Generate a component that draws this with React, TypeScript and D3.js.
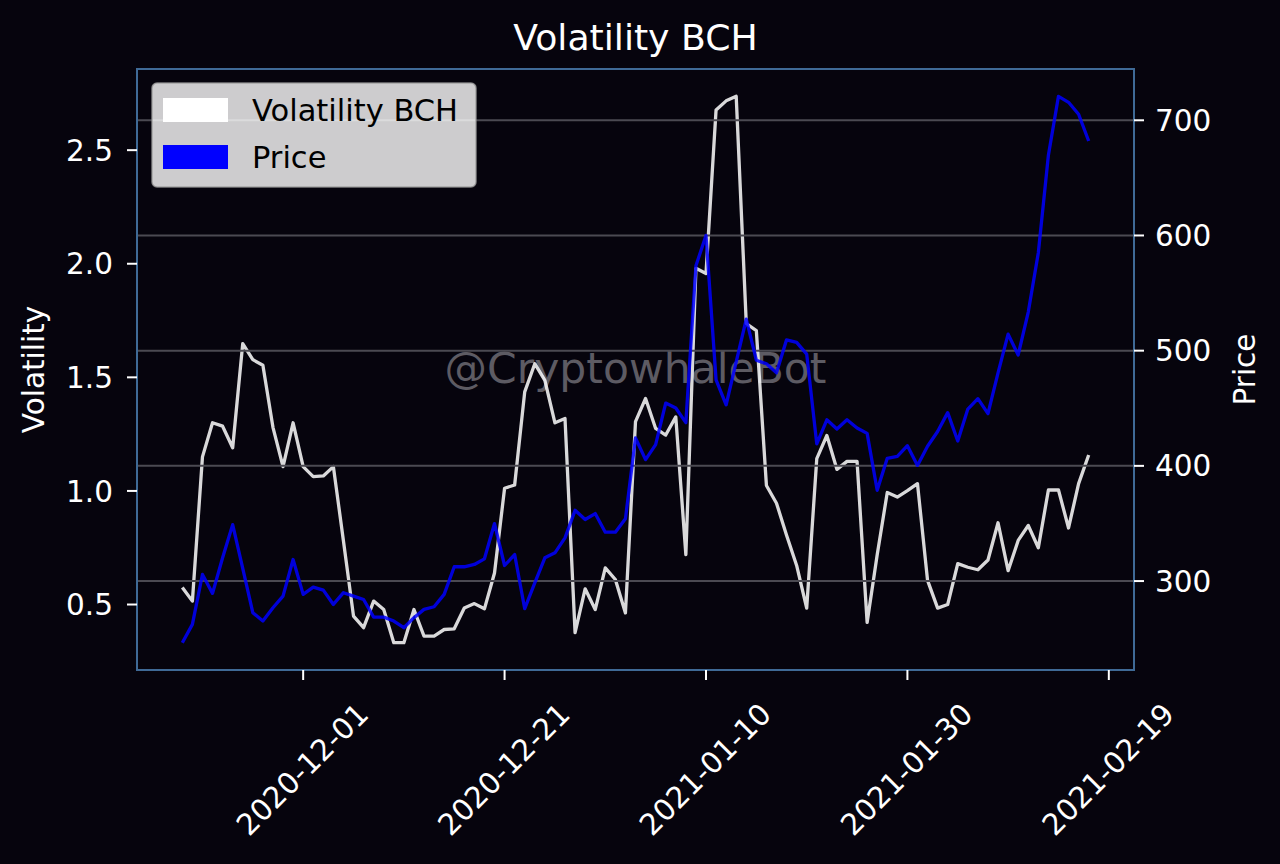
import { useEffect } from "react";
import * as d3 from "d3";

// Daily series, 2020-11-19 .. 2021-02-17
const START_DATE = "2020-11-19";
const END_DATE = "2021-02-17";

const VOLATILITY = [
  0.575, 0.515, 1.15, 1.3, 1.285, 1.19, 1.648, 1.578, 1.553, 1.28,
  1.107, 1.3, 1.107, 1.063, 1.066, 1.107, 0.78, 0.449, 0.398, 0.515,
  0.478, 0.332, 0.332, 0.478, 0.361, 0.361, 0.39, 0.393, 0.485, 0.504,
  0.481, 0.639, 1.012, 1.026, 1.436, 1.56, 1.487, 1.3, 1.319, 0.376,
  0.569, 0.478, 0.661, 0.61, 0.463, 1.305, 1.407, 1.275, 1.246, 1.326,
  0.72, 1.98, 1.957, 2.677, 2.717, 2.737, 1.737, 1.706, 1.024, 0.946,
  0.805, 0.672, 0.484, 1.142, 1.244, 1.095, 1.13, 1.13, 0.421, 0.719,
  0.993, 0.973, 1.001, 1.032, 0.606, 0.484, 0.5, 0.68, 0.664, 0.653,
  0.696, 0.86, 0.649, 0.782, 0.848, 0.75, 1.004, 1.004, 0.837, 1.032,
  1.158,
];

const PRICE = [
  246.5, 262.4, 305.7, 289.3, 320.2, 349, 311, 272.5, 265.3, 276.8,
  286.9, 318.7, 288.4, 294.7, 292.1, 279.7, 289.9, 286.9, 284, 268.7,
  268.7, 265.3, 259.5, 268.2, 275.4, 277.7, 288.4, 312.4, 312.4, 314.4,
  319.3, 349.9, 313.5, 323, 276, 298.5, 320.2, 324.5, 337.5, 361.4,
  353.4, 358.6, 342.4, 342.4, 354, 424.2, 405.4, 418.4, 454.5, 450.2,
  437.5, 573.7, 600, 474.7, 453, 490.3, 527.3, 491.7, 488.6, 480.8,
  509.4, 507.2, 497, 419.1, 440, 432, 440, 432.9, 428.2, 378.8,
  406.6, 408.2, 417.5, 400.4, 417, 429.8, 446.2, 421.6, 449.3, 458.3,
  445.3, 480.8, 514.3, 496.3, 533.5, 585, 669.7, 720.8, 715.6, 705.2,
  682,
];

const VOL_TICKS = [0.5, 1.0, 1.5, 2.0, 2.5];
const PRICE_TICKS = [300, 400, 500, 600, 700];
const DATE_TICKS = ["2020-12-01", "2020-12-21", "2021-01-10", "2021-01-30", "2021-02-19"];

const LEGEND = [
  { label: "Volatility BCH", color: "#ffffff" },
  { label: "Price", color: "#0000ff" },
];

const W = 1280;
const H = 864;
const BG = "#06040d";
const SPINE = "#3f6a96";
const FONT = "'DejaVu Sans', sans-serif";
const FS = 29.5;

// matplotlib-style 5% autoscale margin
function padded(lo: number, hi: number): [number, number] {
  const p = (hi - lo) * 0.05;
  return [lo - p, hi + p];
}

export default function App() {
  useEffect(() => {
    document.body.style.margin = "0";
    document.body.style.background = BG;
  }, []);

  const m = { left: 137, right: 1134, top: 69, bottom: 670 };

  const parse = d3.utcParse("%Y-%m-%d");
  const dates = d3.utcDay.range(parse(START_DATE)!, d3.utcDay.offset(parse(END_DATE)!, 1));
  const t0 = +dates[0];
  const t1 = +dates[dates.length - 1];
  const [xa, xb] = padded(t0, t1);

  const x = d3.scaleUtc().domain([new Date(xa), new Date(xb)]).range([m.left, m.right]);
  const yVol = d3
    .scaleLinear()
    .domain(padded(d3.min(VOLATILITY)!, d3.max(VOLATILITY)!))
    .range([m.bottom, m.top]);
  const yPrice = d3
    .scaleLinear()
    .domain(padded(d3.min(PRICE)!, d3.max(PRICE)!))
    .range([m.bottom, m.top]);

  const volLine = d3
    .line<number>()
    .x((_, i) => x(dates[i]))
    .y((d) => yVol(d));
  const priceLine = d3
    .line<number>()
    .x((_, i) => x(dates[i]))
    .y((d) => yPrice(d));

  const cx = (m.left + m.right) / 2;
  const cy = (m.top + m.bottom) / 2;

  return (
    <svg width={W} height={H} style={{ display: "block", background: BG }} fontFamily={FONT}>
      <rect x={0} y={0} width={W} height={H} fill={BG} />

      {/* watermark */}
      <text x={cx} y={383} textAnchor="middle" fontSize={42.5} fill="#5d5b63">
        @CryptowhaleBot
      </text>

      {/* volatility line (left axis) */}
      <path
        d={volLine(VOLATILITY)!}
        fill="none"
        stroke="#ffffff"
        strokeOpacity={0.85}
        strokeWidth={3.3}
        strokeLinejoin="round"
      />

      {/* grid from the twin (price) axis */}
      {PRICE_TICKS.map((t) => (
        <line
          key={`g${t}`}
          x1={m.left}
          x2={m.right}
          y1={yPrice(t)}
          y2={yPrice(t)}
          stroke="#4b4a52"
          strokeWidth={2}
        />
      ))}

      {/* price line (right axis) */}
      <path
        d={priceLine(PRICE)!}
        fill="none"
        stroke="#0000ff"
        strokeOpacity={0.85}
        strokeWidth={3.3}
        strokeLinejoin="round"
      />

      {/* spines */}
      <rect
        x={m.left}
        y={m.top}
        width={m.right - m.left}
        height={m.bottom - m.top}
        fill="none"
        stroke={SPINE}
        strokeWidth={2}
      />

      {/* left axis */}
      {VOL_TICKS.map((t) => (
        <g key={`v${t}`}>
          <line x1={m.left - 10} x2={m.left} y1={yVol(t)} y2={yVol(t)} stroke="#ffffff" strokeWidth={2} />
          <text x={m.left - 24} y={yVol(t)} dy="0.36em" textAnchor="end" fontSize={FS} fill="#ffffff">
            {d3.format(".1f")(t)}
          </text>
        </g>
      ))}

      {/* right axis */}
      {PRICE_TICKS.map((t) => (
        <g key={`p${t}`}>
          <line x1={m.right} x2={m.right + 10} y1={yPrice(t)} y2={yPrice(t)} stroke="#ffffff" strokeWidth={2} />
          <text x={m.right + 21} y={yPrice(t)} dy="0.36em" textAnchor="start" fontSize={FS} fill="#ffffff">
            {t}
          </text>
        </g>
      ))}

      {/* bottom axis */}
      {DATE_TICKS.map((d) => {
        const tx = x(parse(d)!);
        return (
          <g key={d}>
            <line x1={tx} x2={tx} y1={m.bottom} y2={m.bottom + 10} stroke="#ffffff" strokeWidth={2} />
            <text
              transform={`translate(${tx - 1},${769}) rotate(-45)`}
              textAnchor="middle"
              dy="0.36em"
              fontSize={FS}
              fill="#ffffff"
            >
              {d}
            </text>
          </g>
        );
      })}

      {/* axis labels and title */}
      <text transform={`translate(44,${cy}) rotate(-90)`} textAnchor="middle" fontSize={FS} fill="#ffffff">
        Volatility
      </text>
      <text transform={`translate(1255,${cy}) rotate(-90)`} textAnchor="middle" fontSize={FS} fill="#ffffff">
        Price
      </text>
      <text x={cx} y={50} textAnchor="middle" fontSize={36.2} fill="#ffffff">
        Volatility BCH
      </text>

      {/* legend */}
      <g>
        <rect
          x={152}
          y={83}
          width={324}
          height={104}
          rx={5}
          fill="#ffffff"
          fillOpacity={0.8}
          stroke="#9a9a9a"
          strokeOpacity={0.8}
          strokeWidth={1.5}
        />
        {LEGEND.map((e, i) => (
          <g key={e.label} transform={`translate(0,${i * 47})`}>
            <rect x={163} y={98} width={65} height={24} fill={e.color} />
            <text x={252} y={121} fontSize={30.5} fill="#000000">
              {e.label}
            </text>
          </g>
        ))}
      </g>
    </svg>
  );
}
